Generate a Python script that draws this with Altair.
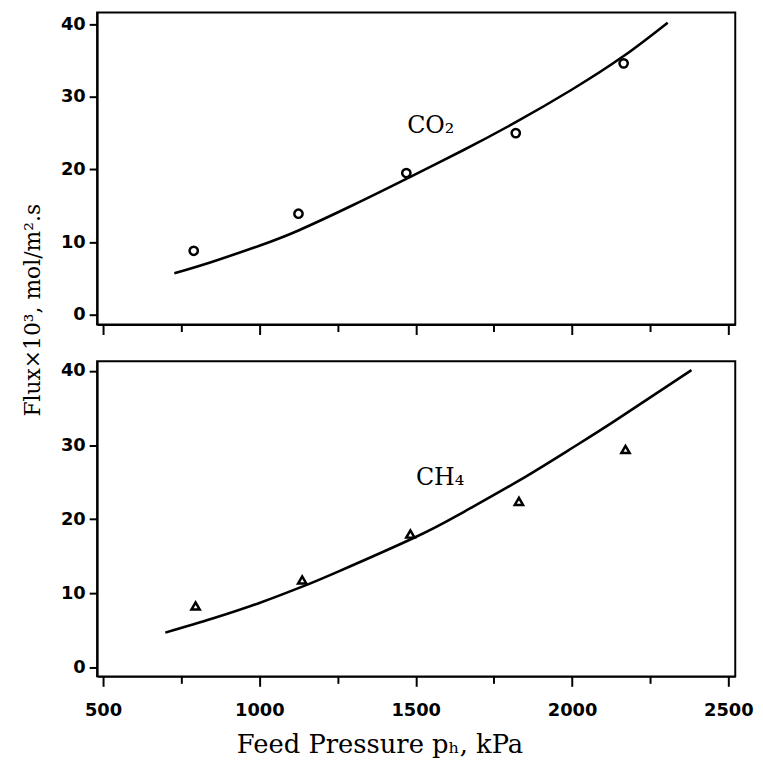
import altair as alt
import pandas as pd

# Measured points (feed pressure kPa, flux x10^3 mol/m2.s)
p_co2 = [790, 1125, 1470, 1820, 2165]
f_co2 = [8.8, 13.9, 19.5, 25.0, 34.6]
p_ch4 = [796, 1137, 1483, 1830, 2171]
f_ch4 = [8.3, 11.8, 18.0, 22.4, 29.4]

# Model curves
fit_co2_p = [728, 850, 1000, 1125, 1300, 1470, 1650, 1820, 2000, 2165, 2306]
fit_co2_f = [5.7, 7.3, 9.5, 11.6, 15.1, 18.7, 22.6, 26.5, 31.0, 35.6, 40.2]
fit_ch4_p = [699, 850, 1000, 1137, 1250, 1500, 1650, 1830, 2000, 2138, 2382]
fit_ch4_f = [4.7, 6.6, 8.7, 10.9, 12.9, 17.6, 20.9, 25.2, 29.6, 33.3, 40.1]

x_ticks = [500, 750, 1000, 1250, 1500, 1750, 2000, 2250, 2500]
y_ticks = [0, 5, 10, 15, 20, 25, 30, 35, 40]

labels = ["CO₂", "CH₄"]
label_p = [1548, 1578]
label_f = [26.0, 25.5]

x_title = "Feed Pressure pₕ, kPa"
y_title = "Flux×10³, mol/m².s"

W = 644
H_TOP = 315
H_BOT = 318
x_dom = [481, 2522]

pts_co2 = pd.DataFrame({"p": p_co2, "f": f_co2})
pts_ch4 = pd.DataFrame({"p": p_ch4, "f": f_ch4})
fit_co2 = pd.DataFrame({"p": fit_co2_p, "f": fit_co2_f})
fit_ch4 = pd.DataFrame({"p": fit_ch4_p, "f": fit_ch4_f})
lab_co2 = pd.DataFrame({"p": [label_p[0]], "f": [label_f[0]], "t": [labels[0]]})
lab_ch4 = pd.DataFrame({"p": [label_p[1]], "f": [label_f[1]], "t": [labels[1]]})

tick_x_size = {"condition": {"test": "datum.value % 500 === 0", "value": 10}, "value": 7}
tick_y_size = {"condition": {"test": "datum.value % 10 === 0", "value": 8}, "value": 5}


def x_enc(show_labels, title):
    kw = dict(
        values=x_ticks,
        tickSize=tick_x_size,
        labelExpr="datum.value % 500 === 0 ? datum.label : ''",
        format="d",
        labelOverlap=False,
        labelFlush=False,
        labels=show_labels,
        labelPadding=15,
        titlePadding=13,
    )
    if title is None:
        kw["title"] = None
    else:
        kw["title"] = title
        kw["titleX"] = 285
        kw["titleFontSize"] = 26
    return alt.X("p:Q", scale=alt.Scale(domain=x_dom, nice=False, zero=False), axis=alt.Axis(**kw))


def y_enc(domain, title, title_y=None):
    kw = dict(
        values=y_ticks,
        tickSize=tick_y_size,
        labelExpr="datum.value % 10 === 0 ? datum.label : ''",
        labelOverlap=False,
        labelFlush=False,
        labelPadding=4,
        titlePadding=16,
    )
    if title is None:
        kw["title"] = None
    else:
        kw["title"] = title
        kw["titleY"] = title_y
        kw["titleFontSize"] = 22
    return alt.Y("f:Q", scale=alt.Scale(domain=domain, nice=False, zero=False), axis=alt.Axis(**kw))


def panel(pts, fit, lab, shape, domain, height, xlabels, xtitle, ytitle, title_y=None):
    xe = x_enc(xlabels, xtitle)
    ye = y_enc(domain, ytitle, title_y)
    line = alt.Chart(fit).mark_line(color="black", strokeWidth=2.6, interpolate="natural").encode(x=xe, y=ye)
    points = alt.Chart(pts).mark_point(
        shape=shape, filled=False, color="black", size=70, strokeWidth=2.5, opacity=1
    ).encode(x="p:Q", y="f:Q")
    text = alt.Chart(lab).mark_text(
        font="DejaVu Serif", fontSize=24, color="black", align="center", baseline="middle"
    ).encode(x="p:Q", y="f:Q", text="t:N")
    return alt.layer(line, points, text).properties(width=W, height=height)


top = panel(pts_co2, fit_co2, lab_co2, "circle", [-1.36, 41.6], H_TOP, False, None, y_title, 300)
bottom = panel(pts_ch4, fit_ch4, lab_ch4, "triangle-up", [-1.2, 41.3], H_BOT, True, x_title, None)

chart = alt.vconcat(top, bottom, spacing=37, bounds="flush").properties(
    padding={"left": 20, "top": 8, "right": 8, "bottom": 20}
).configure_view(
    stroke="black", strokeWidth=2
).configure_axis(
    grid=False,
    domainColor="black",
    domainWidth=2,
    tickColor="black",
    tickWidth=2,
    labelFont="DejaVu Sans",
    labelFontWeight="bold",
    labelFontSize=18,
    labelColor="black",
    titleFont="DejaVu Serif",
    titleFontWeight="normal",
    titleColor="black",
)

chart.save("out.html", embed_options={"renderer": "svg", "actions": False})
